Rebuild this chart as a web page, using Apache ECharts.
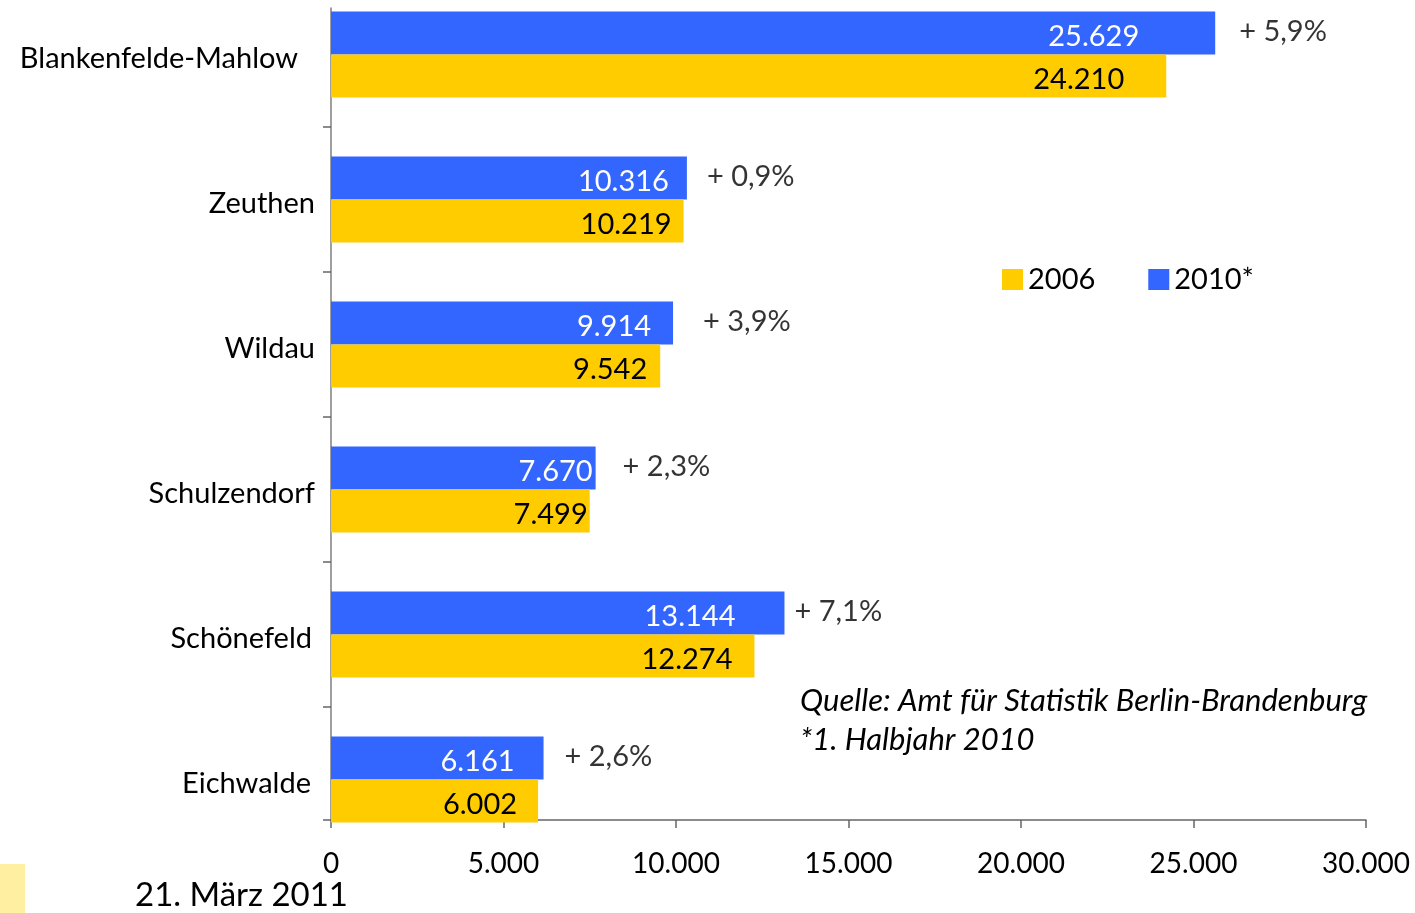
<!DOCTYPE html>
<html><head><meta charset="utf-8">
<script src="https://cdn.jsdelivr.net/npm/echarts@6/dist/echarts.min.js"></script>
<style>html,body{margin:0;padding:0;background:#fff}#c{width:1415px;height:913px}</style>
</head><body><div id="c"></div>
<script>
// ---- data ----
const categories = ['Blankenfelde-Mahlow', 'Zeuthen', 'Wildau', 'Schulzendorf', 'Schönefeld', 'Eichwalde'];
const values2006 = [24210, 10219, 9542, 7499, 12274, 6002];
const values2010 = [25629, 10316, 9914, 7670, 13144, 6161];
const changeLabels = ['+ 5,9%', '+ 0,9%', '+ 3,9%', '+ 2,3%', '+ 7,1%', '+ 2,6%'];
const seriesNames = ['2006', '2010*'];
const xMin = 0, xMax = 30000, xStep = 5000;

// ---- style tweaks (label placement, not data) ----
const pad2010 = [76, 18, 22, 3, 49, 29];
const pad2006 = [42, 12, 13, 2, 22, 21];
const pctGap = [24, 20, 30, 27, 10, 21];
const catPad = [17, 0, 0, 0, 3, 4];

const FONT = 'Lato';
const FS = 29;
const fmt = v => String(v).replace(/\B(?=(\d{3})+(?!\d))/g, '.');

const chart = echarts.init(document.getElementById('c'), null, {renderer: 'canvas'});
const axisCats = categories.concat(['']);
const catRich = {};
catPad.forEach((p, i) => {
  catRich['c' + i] = {fontFamily: FONT, fontSize: FS, color: '#000', padding: [8, p, 0, 0]};
});

chart.setOption({
  animation: false,
  backgroundColor: '#ffffff',
  textStyle: {fontFamily: FONT},
  legend: {
    data: seriesNames,
    left: 1002, top: 265, padding: 0,
    icon: 'rect', itemWidth: 21, itemHeight: 21, itemGap: 53,
    textStyle: {fontFamily: FONT, fontSize: FS, color: '#000'},
    selectedMode: false
  },
  grid: [
    {left: 331, right: 49, top: -18, height: 1015, containLabel: false, outerBoundsMode: 'none'},
    {left: 331, right: 49, top: 8, bottom: 93, containLabel: false, outerBoundsMode: 'none'}
  ],
  xAxis: [
    {gridIndex: 0, type: 'value', min: xMin, max: xMax, interval: xStep, show: false},
    {gridIndex: 1, type: 'value', min: xMin, max: xMax, interval: xStep,
     axisLine: {show: true, lineStyle: {color: '#666', width: 1.5}},
     axisTick: {show: true, length: 8, lineStyle: {color: '#666', width: 1.5}},
     axisLabel: {fontFamily: FONT, fontSize: 28, color: '#000', margin: 30, formatter: v => fmt(v)},
     splitLine: {show: false}}
  ],
  yAxis: [
    {gridIndex: 0, type: 'category', data: axisCats, inverse: true,
     axisLine: {show: false},
     axisTick: {show: true, length: 8, interval: (i) => i < categories.length, lineStyle: {color: '#666', width: 1.5}},
     axisLabel: {fontFamily: FONT, fontSize: FS, color: '#000', margin: 16,
                 formatter: (v, i) => v ? '{c' + i + '|' + v + '}' : '', rich: catRich},
     splitLine: {show: false}},
    {gridIndex: 1, type: 'category', data: ['', ''], boundaryGap: false,
     axisLine: {show: true, lineStyle: {color: '#7f7f7f', width: 1.5}},
     axisTick: {show: true, length: 8, interval: (i) => i === 0, lineStyle: {color: '#666', width: 1.5}},
     axisLabel: {show: false}, splitLine: {show: false}}
  ],
  series: [
    {name: '2010*', type: 'bar', xAxisIndex: 0, yAxisIndex: 0, barWidth: 43, barGap: '0%',
     itemStyle: {color: '#3366FF'},
     data: values2010.map((v, i) => ({value: v, label: {distance: pad2010[i]}})),
     label: {show: true, position: 'insideRight', color: '#fff', fontFamily: FONT, fontSize: FS,
             offset: [0, 4], formatter: p => fmt(p.value)}},
    {name: '2006', type: 'bar', xAxisIndex: 0, yAxisIndex: 0, barWidth: 43, barGap: '0%',
     itemStyle: {color: '#FFCC00'},
     data: values2006.map((v, i) => ({value: v, label: {distance: pad2006[i]}})),
     label: {show: true, position: 'insideRight', color: '#000', fontFamily: FONT, fontSize: FS,
             offset: [0, 4], formatter: p => fmt(p.value)}},
    {name: 'change', type: 'scatter', xAxisIndex: 0, yAxisIndex: 0, symbolSize: 0, silent: true,
     data: values2010.map((v, i) => ({value: [v, i], label: {distance: pctGap[i]}})),
     label: {show: true, position: 'right', color: '#000', fontFamily: FONT, fontSize: FS,
             offset: [0, -23], formatter: p => changeLabels[p.dataIndex]}}
  ],
  graphic: [
    {type: 'text', left: 800, top: 681,
     style: {text: 'Quelle: Amt für Statistik Berlin-Brandenburg\n*1. Halbjahr 2010', fill: '#000',
             font: 'italic 31px ' + FONT, lineHeight: 39}},
    {type: 'rect', left: 0, top: 864, shape: {width: 25, height: 49}, style: {fill: '#FFEFA0'}},
    {type: 'text', left: 135, top: 879,
     style: {text: '21. März 2011', fill: '#000', font: '33px ' + FONT}}
  ]
});
</script></body></html>
